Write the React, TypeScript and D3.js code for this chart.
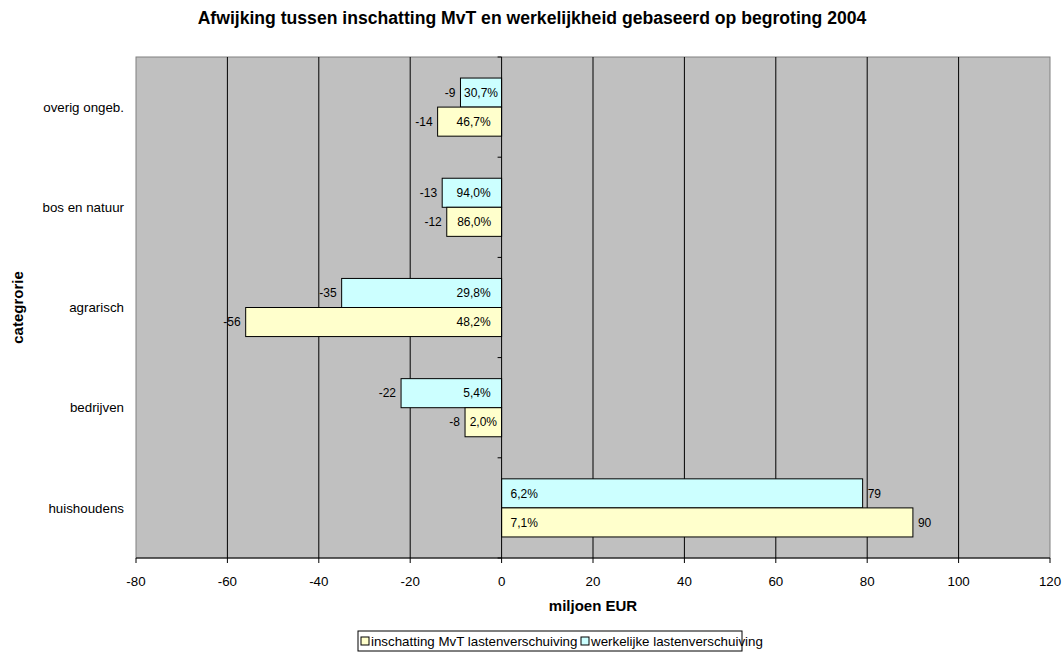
import React from "react";
import * as d3 from "d3";

const categories = ["overig ongeb.", "bos en natuur", "agrarisch", "bedrijven", "huishoudens"];
const inschatting = [-14, -12, -56, -8, 90];
const werkelijke = [-9, -13, -35, -22, 79];
const pctInschatting = ["46,7%", "86,0%", "48,2%", "2,0%", "7,1%"];
const pctWerkelijke = ["30,7%", "94,0%", "29,8%", "5,4%", "6,2%"];
const xTicks = [-80, -60, -40, -20, 0, 20, 40, 60, 80, 100, 120];
const seriesNames = ["inschatting MvT lastenverschuiving", "werkelijke lastenverschuiving"];
const seriesColors = ["#FFFFCC", "#CCFFFF"];

const W = 1064;
const H = 653;
const left = 136;
const right = 1050;
const top = 57;
const bottom = 558;
const font = "'Liberation Sans', Arial, Helvetica, sans-serif";

function textWidth(s: string, size: number) {
  // rough Arial width estimate
  const w: Record<string, number> = { "%": 0.889, ",": 0.278, "-": 0.333 };
  let t = 0;
  for (const c of s) t += w[c] ?? 0.556;
  return t * size;
}

export default function App() {
  const x = d3.scaleLinear().domain([-80, 120]).range([left, right]);
  const y = d3.scaleBand().domain(categories).range([top, bottom]).paddingInner(0).paddingOuter(0);
  const bw = y.bandwidth();
  const barH = bw * 0.29;
  const x0 = x(0);
  const labelSize = 12;

  const bars: any[] = [];
  categories.forEach((c, i) => {
    const cy = (y(c) as number) + bw / 2;
    const series = [
      { v: werkelijke[i], p: pctWerkelijke[i], color: seriesColors[1], y0: cy - barH },
      { v: inschatting[i], p: pctInschatting[i], color: seriesColors[0], y0: cy },
    ];
    series.forEach((s, j) => {
      const xe = x(s.v);
      const bx = Math.min(xe, x0);
      const wdt = Math.abs(xe - x0);
      const my = s.y0 + barH / 2;
      const tw = textWidth(s.p, labelSize);
      let pctX: number;
      let pctAnchor: "start" | "end" | "middle";
      if (s.v < 0) {
        if (wdt > tw + 22) {
          pctX = x0 - 11;
          pctAnchor = "end";
        } else {
          pctX = (x0 + xe) / 2;
          pctAnchor = "middle";
        }
      } else {
        pctX = x0 + 9;
        pctAnchor = "start";
      }
      bars.push(
        <g key={`${i}-${j}`}>
          <rect x={bx} y={s.y0} width={wdt} height={barH} fill={s.color} stroke="#000" strokeWidth={1} />
          <text x={pctX} y={my} dy="0.35em" textAnchor={pctAnchor} fontSize={labelSize} fontFamily={font} fill="#000">
            {s.p}
          </text>
          <text
            x={s.v < 0 ? xe - 5 : xe + 5}
            y={my}
            dy="0.35em"
            textAnchor={s.v < 0 ? "end" : "start"}
            fontSize={labelSize}
            fontFamily={font}
            fill="#000"
          >
            {s.v}
          </text>
        </g>
      );
    });
  });

  const boundaries = d3.range(categories.length + 1).map((k) => top + k * bw);

  return (
    <svg width={W} height={H} style={{ position: "absolute", left: 0, top: 0 }} fontFamily={font}>
      <rect x={0} y={0} width={W} height={H} fill="#fff" />
      <text x={W / 2} y={24} textAnchor="middle" fontSize={17.6} fontWeight="bold">
        Afwijking tussen inschatting MvT en werkelijkheid gebaseerd op begroting 2004
      </text>
      <rect x={left} y={top} width={right - left} height={bottom - top} fill="#C0C0C0" stroke="#808080" strokeWidth={1} />
      {xTicks
        .filter((t) => t !== -80 && t !== 120 && t !== 0)
        .map((t) => (
          <line key={t} x1={x(t)} x2={x(t)} y1={top} y2={bottom} stroke="#000" strokeWidth={1} />
        ))}
      {bars}
      <line x1={x0} x2={x0} y1={top} y2={bottom} stroke="#000" strokeWidth={1} />
      {boundaries.map((b, k) => (
        <line key={k} x1={x0 - 4} x2={x0} y1={b} y2={b} stroke="#000" strokeWidth={1} />
      ))}
      <line x1={left} x2={right} y1={bottom} y2={bottom} stroke="#000" strokeWidth={1} />
      {xTicks.map((t) => (
        <g key={t}>
          <line x1={x(t)} x2={x(t)} y1={bottom} y2={bottom + 5} stroke="#000" strokeWidth={1} />
          <text x={x(t)} y={586} textAnchor="middle" fontSize={13.33}>
            {t}
          </text>
        </g>
      ))}
      <text x={(left + right) / 2} y={611} textAnchor="middle" fontSize={15} fontWeight="bold">
        miljoen EUR
      </text>
      {categories.map((c) => (
        <text key={c} x={124} y={(y(c) as number) + bw / 2} dy="0.35em" textAnchor="end" fontSize={13.33}>
          {c}
        </text>
      ))}
      <text
        transform={`translate(23, ${(top + bottom) / 2}) rotate(-90)`}
        textAnchor="middle"
        fontSize={15}
        fontWeight="bold"
      >
        categrorie
      </text>
      <g>
        <rect x={358} y={631} width={384} height={20} fill="#fff" stroke="#000" strokeWidth={1} />
        <rect x={361} y={637} width={8} height={8} fill={seriesColors[0]} stroke="#000" strokeWidth={1} />
        <text x={371} y={646} fontSize={13.33}>
          {seriesNames[0]}
        </text>
        <rect x={581} y={637} width={8} height={8} fill={seriesColors[1]} stroke="#000" strokeWidth={1} />
        <text x={591} y={646} fontSize={13.33}>
          {seriesNames[1]}
        </text>
      </g>
    </svg>
  );
}
